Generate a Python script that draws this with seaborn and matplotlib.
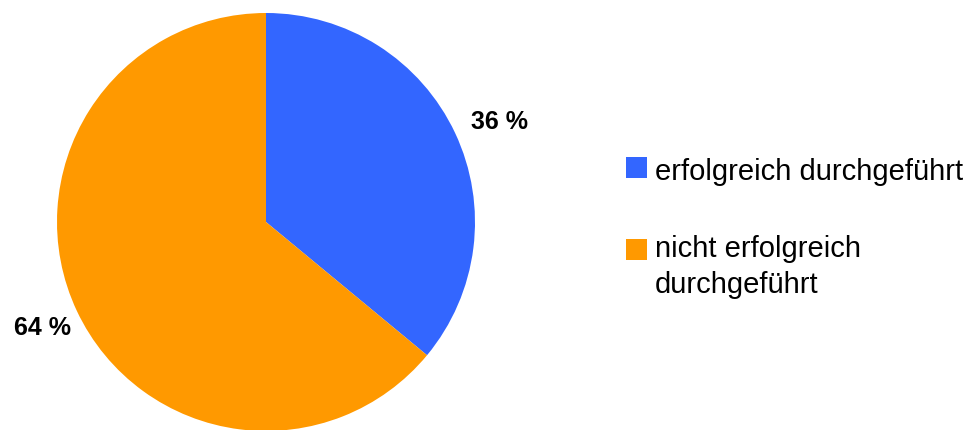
import matplotlib
matplotlib.use("Agg")
import matplotlib.pyplot as plt
import seaborn as sns
from matplotlib.patches import Rectangle

categories = ["erfolgreich durchgeführt", "nicht erfolgreich\ndurchgeführt"]
shares = [36, 64]
colors = ["#3366FF", "#FF9900"]

sns.set_theme(style="white")
plt.rcParams["font.family"] = ["Liberation Sans", "DejaVu Sans"]
plt.rcParams["text.color"] = "black"

W, H = 968, 431
fig = plt.figure(figsize=(W / 100, H / 100), dpi=100)

# pie axes: centre (266, 223) px, radius 209 px
cx, cy, r = 266, 223, 209
ax = fig.add_axes([(cx - r) / W, (H - cy - r) / H, 2 * r / W, 2 * r / H])

wedges, _, autotexts = ax.pie(
    shares,
    colors=sns.color_palette(colors),
    startangle=90,
    counterclock=False,
    autopct="%.0f %%",
    textprops=dict(fontsize=18, fontweight="bold", color="black"),
    wedgeprops=dict(linewidth=0),
)
# percentage labels sit just outside the rim
label_pos = [(1.115, 0.448), (-1.067, -0.536)]
for t, pos in zip(autotexts, label_pos):
    t.set_position(pos)
    t.set_ha("center")
    t.set_va("baseline")

ax.set_xlim(-1, 1)
ax.set_ylim(-1, 1)
ax.set_aspect("auto")
ax.axis("off")

# legend: colour squares with labels beside them
square_bottom = [179, 261]   # px from top
text_baseline = [180.5, 293]  # baseline of the last line of each label
for c, label, yb, yt in zip(colors, categories, square_bottom, text_baseline):
    fig.add_artist(Rectangle((626 / W, 1 - yb / H), 21 / W, 21 / H,
                             transform=fig.transFigure, facecolor=c,
                             edgecolor="none"))
    fig.text(655 / W, 1 - yt / H, label, fontsize=21,
             color="black", ha="left", va="baseline", linespacing=1.35)

fig.savefig("out.png", dpi=100)
